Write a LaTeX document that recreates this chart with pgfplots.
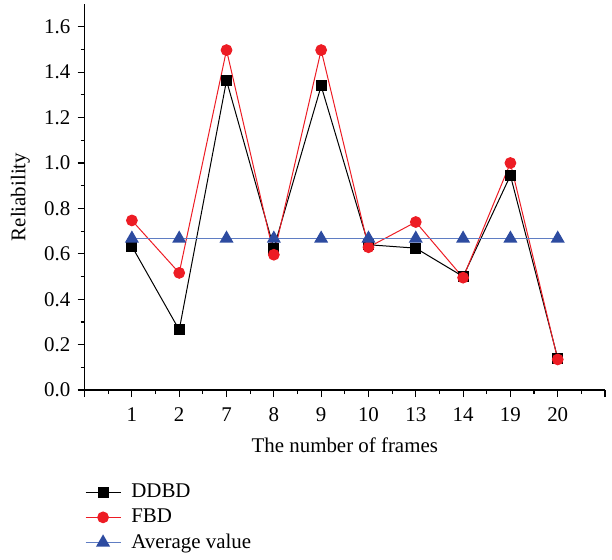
\documentclass[border=0pt]{standalone}
\usepackage{fontspec}
\setmainfont{Liberation Serif}
\usepackage{pgfplots}
\pgfplotsset{compat=1.18}
\usetikzlibrary{calc}

\definecolor{fbdred}{RGB}{237,28,36}
\definecolor{avgblue}{RGB}{45,75,160}
\definecolor{avgline}{RGB}{95,125,195}

\begin{document}
\fontsize{10.5}{12.6}\selectfont
\begin{tikzpicture}
\begin{axis}[
    scale only axis,
    width=261.5pt, height=194pt,
    xmin=0, xmax=11,
    ymin=0, ymax=1.7,
    axis lines=left,
    axis line style={-, line width=0.6pt},
    tick style={black, line width=0.6pt},
    tick align=outside,
    major tick length=3.5pt,
    minor tick length=2pt,
    xtick={0,...,11},
    xticklabels={,1,2,7,8,9,10,13,14,19,20,},
    minor x tick num=1,
    ytick={0,0.2,...,1.6},
    minor y tick num=1,
    yticklabel style={/pgf/number format/fixed, /pgf/number format/fixed zerofill, /pgf/number format/precision=1},
    xticklabel style={yshift=-1.5pt},
    /pgf/number format/assume math mode=true,
    tick label style={font=\fontsize{10.5}{12.6}\selectfont},
    label style={font=\fontsize{10.5}{12.6}\selectfont},
    xlabel={The number of frames},
    ylabel={Reliability},
    xlabel style={yshift=-1pt},
    legend image code/.code={
        \draw[mark repeat=2, mark phase=2] plot coordinates {(0cm,0cm) (0.31cm,0cm) (0.62cm,0cm)};},
    legend style={at={(-0.012,-0.222)}, anchor=north west, draw=none, fill=none,
        font=\fontsize{10.5}{12.6}\selectfont, row sep=0pt,
        legend cell align=left,
        /tikz/every odd column/.append style={column sep=3pt}},
    clip=false,
]
\coordinate (O) at (rel axis cs:0,0);
\addplot[black, line width=0.5pt, mark=square*, mark size=2.5pt, mark options={solid, fill=black}]
  coordinates {(1,0.633) (2,0.265) (3,1.363) (4,0.625) (5,1.339) (6,0.64) (7,0.625) (8,0.5) (9,0.945) (10,0.14)};
\addlegendentry{DDBD}
\addplot[fbdred, line width=0.5pt, mark=*, mark size=2.7pt, mark options={solid, fill=fbdred}]
  coordinates {(1,0.747) (2,0.516) (3,1.497) (4,0.596) (5,1.497) (6,0.629) (7,0.74) (8,0.495) (9,1.0) (10,0.135)};
\addlegendentry{FBD}
\addplot[avgline, line width=0.8pt, mark=triangle*, mark size=3.3pt, mark options={solid, fill=avgblue, draw=avgblue}]
  coordinates {(1,0.667) (2,0.667) (3,0.667) (4,0.667) (5,0.667) (6,0.667) (7,0.667) (8,0.667) (9,0.667) (10,0.667)};
\addlegendentry{Average value}
\end{axis}
\path[use as bounding box] ($(O)+(-42.5pt,-83pt)$) rectangle ($(O)+(263.5pt,196pt)$);
\end{tikzpicture}
\end{document}
